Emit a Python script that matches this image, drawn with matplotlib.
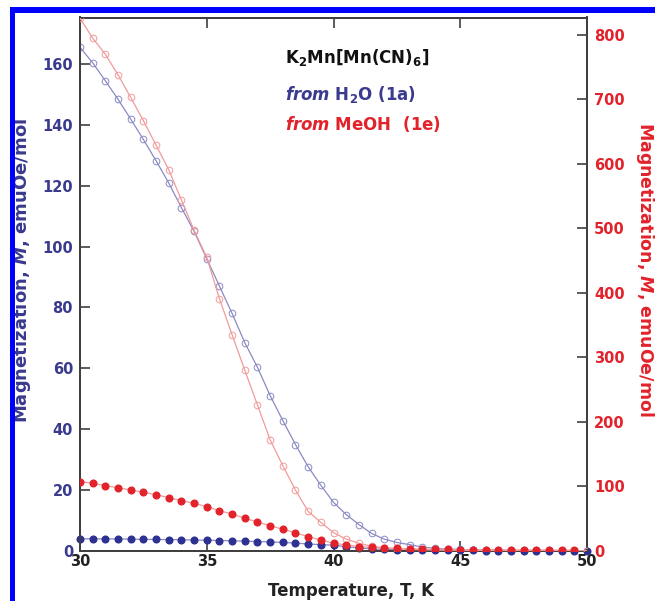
import matplotlib
matplotlib.use('Agg')
import matplotlib.pyplot as plt
from matplotlib.patches import Rectangle

plt.rcParams['font.family'] = ['DejaVu Sans']
plt.rcParams['font.weight'] = 'bold'
plt.rcParams['axes.labelweight'] = 'bold'
plt.rcParams['mathtext.fontset'] = 'custom'
plt.rcParams['mathtext.rm'] = 'DejaVu Sans:bold'
plt.rcParams['mathtext.it'] = 'DejaVu Sans:italic:bold'
plt.rcParams['mathtext.bf'] = 'DejaVu Sans:bold'

# temperature, K
temps = [30.0, 30.5, 31.0, 31.5, 32.0, 32.5, 33.0, 33.5, 34.0, 34.5,
         35.0, 35.5, 36.0, 36.5, 37.0, 37.5, 38.0, 38.5, 39.0, 39.5,
         40.0, 40.5, 41.0, 41.5, 42.0, 42.5, 43.0, 43.5, 44.0, 44.5,
         45.0, 45.5, 46.0, 46.5, 47.0, 47.5, 48.0, 48.5, 49.0, 49.5, 50.0]

# from H2O (1a), left axis
h2o_open = [165.5, 160.4, 154.5, 148.4, 141.9, 135.2, 128.2, 120.9, 112.8, 105.0,
            96.0, 87.0, 78.0, 68.4, 60.3, 51.0, 42.8, 34.9, 27.6, 21.5,
            15.9, 11.9, 8.6, 5.7, 3.8, 2.7, 2.0, 1.2, 0.8, 0.5,
            0.4, 0.3, 0.2, 0.2, 0.1, 0.1, 0.1, 0.1, 0.0, 0.0, 0.0]
h2o_filled = [3.9, 3.9, 3.9, 3.85, 3.8, 3.75, 3.7, 3.65, 3.6, 3.5,
              3.45, 3.35, 3.25, 3.15, 3.0, 2.9, 2.7, 2.5, 2.2, 2.0,
              1.8, 1.3, 0.9, 0.6, 0.4, 0.3, 0.25, 0.2, 0.15, 0.1,
              0.1, 0.1, 0.05, 0.05, 0.05, 0.0, 0.0, 0.0, 0.0, 0.0, 0.0]

# from MeOH (1e), right axis
meoh_open = [826, 795, 770, 738, 703, 667, 629, 591, 544, 497,
             455, 391, 335, 280, 226, 172, 132, 94, 61, 44,
             28, 18, 11.5, 7, 4.5, 3, 2, 1.5, 1, 1,
             0.5, 0.5, 0.5, 0.3, 0.3, 0.2, 0.2, 0.1, 0.1, 0.0, 0.0]
meoh_filled = [107, 104.6, 100.8, 97.7, 94.2, 90.6, 86.9, 82.2, 77.6, 73.5,
               68.3, 62.1, 56.9, 50.3, 44.5, 38.8, 33.2, 27.9, 21.7, 16.6,
               11.5, 9, 6.5, 5, 4, 3.5, 3, 2.5, 2, 2,
               1.5, 1.5, 1.2, 1.2, 1, 1, 1, 0.8, 0.8, 0.8]

blue = '#3a3a8e'
blue_dot = '#2e3192'
blue_line = '#8a8ac4'
red = '#e2232b'
red_line = '#f29a9a'
spine_col = '#404040'

fig = plt.figure(figsize=(6.55, 6.01), dpi=100)
ax = fig.add_axes([80 / 655, 1 - 550.7 / 601, 507 / 655, 533.2 / 601])
ax2 = ax.twinx()

# open circles
ax.plot(temps, h2o_open, '-o', color=blue_line, lw=0.9, ms=4.8,
        mfc='none', mec=blue_line, mew=0.7, zorder=3)
ax2.plot(temps, meoh_open, '-o', color=red_line, lw=0.9, ms=4.8,
         mfc='none', mec=red_line, mew=0.7, zorder=3)
# filled circles
ax.plot(temps, h2o_filled, '-o', color=blue_line, lw=0.9, ms=4.8,
        mfc=blue_dot, mec=blue_dot, zorder=4, clip_on=False)
ax2.plot(temps[:-1], meoh_filled, '-o', color=red_line, lw=0.9, ms=4.8,
         mfc=red, mec=red, zorder=4)

ax.set_xlim(30, 50)
ax.set_ylim(0, 175.3)
ax2.set_ylim(0, 827)
ax.set_xticks([30, 35, 40, 45, 50])
ax.set_yticks(range(0, 161, 20))
ax2.set_yticks(range(0, 801, 100))

for a in (ax, ax2):
    for s in a.spines.values():
        s.set_color(spine_col)
        s.set_linewidth(1.4)

ax.tick_params(axis='x', direction='in', top=True, length=7, width=1.2,
               color=spine_col, pad=2.5, labelsize=10.5, labelcolor='#222222')
ax.tick_params(axis='y', direction='in', length=7, width=1.2,
               color=spine_col, pad=5, labelsize=10.5, labelcolor=blue)
ax2.tick_params(axis='y', direction='in', length=7, width=1.2,
                color=spine_col, pad=5, labelsize=10.5, labelcolor=red)

ax.set_xlabel('Temperature, T, K', fontsize=12, color='#222222')
ax.xaxis.set_label_coords((351 - 80) / 507, -0.058)
ax.set_ylabel(r'Magnetization, $M$, emuOe/mol', fontsize=13, color=blue)
ax.yaxis.set_label_coords(-0.092, 0.525)
ax2.set_ylabel(r'Magnetization, $M$, emuOe/mol', fontsize=12.5, color=red,
               rotation=270, va='bottom')
ax2.yaxis.set_label_coords(1.093, 0.527)

ax.text(0.404, 0.9147, r'K$_2$Mn[Mn(CN)$_6$]', transform=ax.transAxes,
        fontsize=12, color='#111111', va='baseline')
ax.text(0.404, 0.8456, r'$from$ H$_2$O (1a)', transform=ax.transAxes,
        fontsize=12, color=blue, va='baseline')
ax.text(0.404, 0.789, r'$from$ MeOH  (1e)', transform=ax.transAxes,
        fontsize=12, color=red, va='baseline')

# blue frame of the figure panel
fig.add_artist(Rectangle((10 / 655, 1 - 13.3 / 601), 1.0, 6.3 / 601,
                         transform=fig.transFigure, color='#0000ff', lw=0))
fig.add_artist(Rectangle((10 / 655, -0.1), 5 / 655, 1.1 - 7 / 601,
                         transform=fig.transFigure, color='#0000ff', lw=0))

fig.savefig('out.png', dpi=100, facecolor='white')
